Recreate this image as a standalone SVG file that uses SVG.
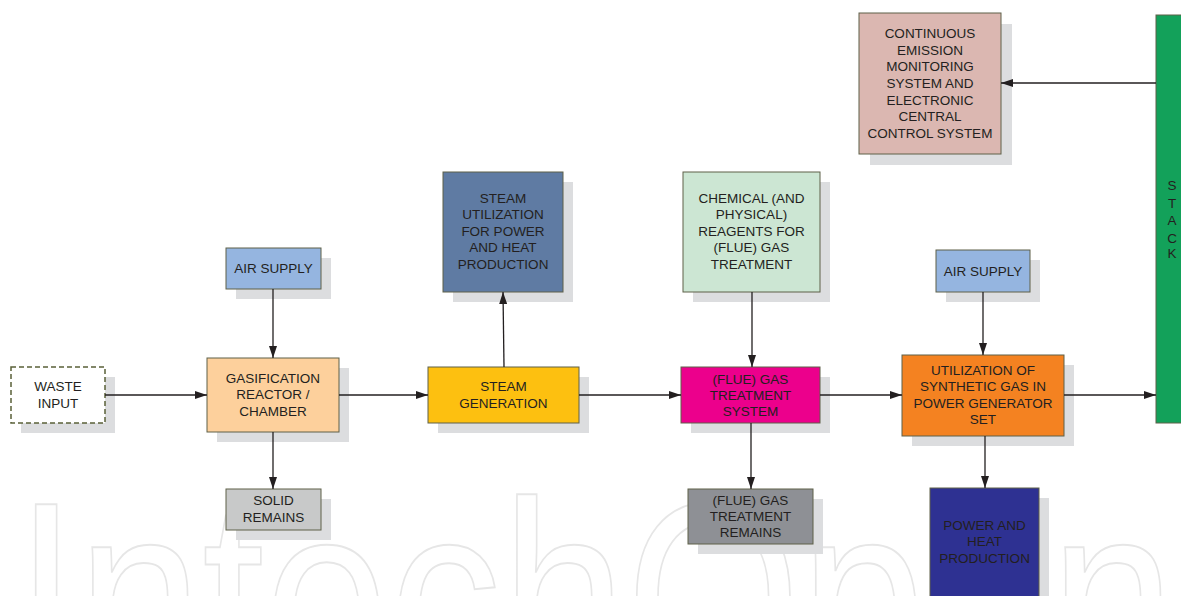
<svg xmlns="http://www.w3.org/2000/svg" width="1181" height="596" viewBox="0 0 1181 596">
<style>
.sh{fill:#dcdddf}
.bx{stroke:#5e6048;stroke-width:1}
.t{font-family:"Liberation Sans",Arial,sans-serif;font-size:13.5px;fill:#231f20;text-anchor:middle}
.ln{stroke:#231f20;stroke-width:1.3;fill:none;marker-end:url(#ah)}
.wm{font-family:"Liberation Sans",Arial,sans-serif;font-size:270px;fill:#ffffff;stroke:#e6e6e6;stroke-width:2}
</style>
<defs>
<marker id="ah" viewBox="0 0 12 8" refX="12" refY="4" markerWidth="12" markerHeight="8" markerUnits="userSpaceOnUse" orient="auto">
<path d="M0,0 L12,4 L0,8 Z" fill="#231f20"/>
</marker>
</defs>
<rect width="1181" height="596" fill="#ffffff"/>
<text class="wm" x="15" y="690" textLength="1160" lengthAdjust="spacingAndGlyphs">IntechOpen</text>

<g id="waste-input">
<rect class="sh" x="21" y="377" width="94" height="56"/>
<rect x="11" y="367" width="94" height="56" fill="#ffffff" stroke="#5a6038" stroke-width="1.5" stroke-dasharray="5,3"/>
<text class="t" x="58" y="391">WASTE</text><text class="t" x="58" y="408">INPUT</text>
</g>
<g id="air-supply-1">
<rect class="sh" x="236" y="258" width="95" height="41"/>
<rect class="bx" x="226" y="248" width="95" height="41" fill="#95b5e0" stroke="#333"/>
<text class="t" x="273.5" y="273">AIR SUPPLY</text>
</g>
<g id="gasification">
<rect class="sh" x="217" y="368" width="132" height="74"/>
<rect class="bx" x="207" y="358" width="132" height="74" fill="#fdd09c"/>
<text class="t" x="273" y="383">GASIFICATION</text><text class="t" x="273" y="399">REACTOR /</text><text class="t" x="273" y="416">CHAMBER</text>
</g>
<g id="solid-remains">
<rect class="sh" x="236" y="499" width="95" height="41"/>
<rect class="bx" x="226" y="489" width="95" height="41" fill="#c8c9c9"/>
<text class="t" x="273.5" y="505">SOLID</text><text class="t" x="273.5" y="522">REMAINS</text>
</g>
<g id="steam-utilization">
<rect class="sh" x="453" y="182" width="120" height="120"/>
<rect class="bx" x="443" y="172" width="120" height="120" fill="#5f7ba3"/>
<text class="t" x="503" y="203">STEAM</text><text class="t" x="503" y="219">UTILIZATION</text><text class="t" x="503" y="236">FOR POWER</text><text class="t" x="503" y="252">AND HEAT</text><text class="t" x="503" y="269">PRODUCTION</text>
</g>
<g id="steam-generation">
<rect class="sh" x="438" y="377" width="151" height="56"/>
<rect class="bx" x="428" y="367" width="151" height="56" fill="#fdc010"/>
<text class="t" x="503.5" y="391">STEAM</text><text class="t" x="503.5" y="408">GENERATION</text>
</g>
<g id="chemical-reagents">
<rect class="sh" x="693" y="182" width="137" height="120"/>
<rect class="bx" x="683" y="172" width="137" height="120" fill="#cce6d3"/>
<text class="t" x="751.5" y="203">CHEMICAL (AND</text><text class="t" x="751.5" y="219">PHYSICAL)</text><text class="t" x="751.5" y="236">REAGENTS FOR</text><text class="t" x="751.5" y="252">(FLUE) GAS</text><text class="t" x="751.5" y="269">TREATMENT</text>
</g>
<g id="flue-gas-treatment">
<rect class="sh" x="691" y="377" width="139" height="56"/>
<rect class="bx" x="681" y="367" width="139" height="56" fill="#ec008c"/>
<text class="t" x="750.5" y="384">(FLUE) GAS</text><text class="t" x="750.5" y="400">TREATMENT</text><text class="t" x="750.5" y="416">SYSTEM</text>
</g>
<g id="flue-gas-remains">
<rect class="sh" x="698" y="499" width="125" height="55"/>
<rect class="bx" x="688" y="489" width="125" height="55" fill="#8e9095"/>
<text class="t" x="750.5" y="505">(FLUE) GAS</text><text class="t" x="750.5" y="521">TREATMENT</text><text class="t" x="750.5" y="537">REMAINS</text>
</g>
<g id="air-supply-2">
<rect class="sh" x="946" y="260" width="94" height="42"/>
<rect class="bx" x="936" y="250" width="94" height="42" fill="#95b5e0" stroke="#333"/>
<text class="t" x="983" y="276">AIR SUPPLY</text>
</g>
<g id="utilization">
<rect class="sh" x="912" y="365" width="162" height="81"/>
<rect class="bx" x="902" y="355" width="162" height="81" fill="#f48221"/>
<text class="t" x="983" y="375">UTILIZATION OF</text><text class="t" x="983" y="391">SYNTHETIC GAS IN</text><text class="t" x="983" y="408">POWER GENERATOR</text><text class="t" x="983" y="424">SET</text>
</g>
<g id="power-heat">
<rect class="sh" x="940" y="498" width="109" height="120"/>
<rect class="bx" x="930" y="488" width="109" height="120" fill="#2e3192"/>
<text class="t" x="984.5" y="530">POWER AND</text><text class="t" x="984.5" y="546">HEAT</text><text class="t" x="984.5" y="563">PRODUCTION</text>
</g>
<g id="cems">
<rect class="sh" x="870" y="24" width="142" height="141"/>
<rect class="bx" x="859" y="13" width="142" height="141" fill="#dbb7b1"/>
<text class="t" x="930" y="38">CONTINUOUS</text><text class="t" x="930" y="55">EMISSION</text><text class="t" x="930" y="71">MONITORING</text><text class="t" x="930" y="88">SYSTEM AND</text><text class="t" x="930" y="105">ELECTRONIC</text><text class="t" x="930" y="121">CENTRAL</text><text class="t" x="930" y="138">CONTROL SYSTEM</text>
</g>
<g id="stack">
<rect x="1156" y="15" width="30" height="408" fill="#13a15a" stroke="#5e6048" stroke-width="1"/>
<text class="t" x="1172" y="190">S</text><text class="t" x="1172" y="208">T</text><text class="t" x="1172" y="225">A</text><text class="t" x="1172" y="243">C</text><text class="t" x="1172" y="258">K</text>
</g>

<g id="connectors">
<line class="ln" x1="105" y1="395" x2="207" y2="395"/>
<line class="ln" x1="339" y1="395" x2="428" y2="395"/>
<line class="ln" x1="579" y1="395" x2="681" y2="395"/>
<line class="ln" x1="820" y1="395" x2="902" y2="395"/>
<line class="ln" x1="1064" y1="395" x2="1156" y2="395"/>
<line class="ln" x1="273" y1="289" x2="273" y2="358"/>
<line class="ln" x1="273" y1="432" x2="273" y2="489"/>
<line class="ln" x1="504" y1="367" x2="503" y2="292"/>
<line class="ln" x1="752" y1="292" x2="752" y2="367"/>
<line class="ln" x1="751" y1="423" x2="751" y2="489"/>
<line class="ln" x1="983" y1="292" x2="983" y2="355"/>
<line class="ln" x1="985" y1="436" x2="985" y2="488"/>
<line class="ln" x1="1156" y1="83" x2="1001" y2="83"/>
</g>
</svg>
